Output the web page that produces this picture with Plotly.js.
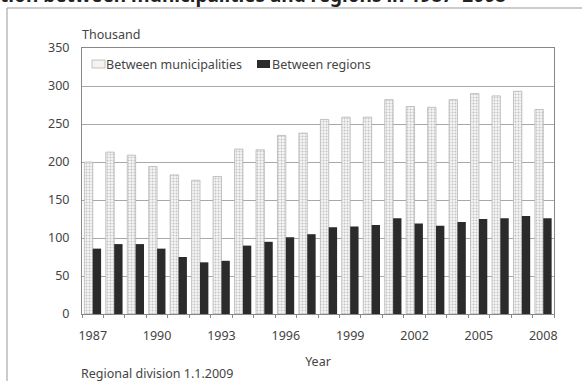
<!DOCTYPE html>
<html>
<head>
<meta charset="utf-8">
<script src="https://cdn.plot.ly/plotly-3.0.1.min.js"></script>
<style>
html,body{margin:0;padding:0;background:#fff;overflow:hidden;}
#chart{width:582px;height:381px;}
</style>
</head>
<body>
<div id="chart"></div>
<script>
const years = ['1987','1988','1989','1990','1991','1992','1993','1994','1995','1996','1997','1998','1999','2000','2001','2002','2003','2004','2005','2006','2007','2008'];
const betweenMunicipalities = [200,213,209,194,183,176,181,217,216,235,238,256,259,259,282,273,272,282,290,287,293,269];
const betweenRegions = [86,92,92,86,75,68,70,90,95,101,105,114,115,117,126,119,116,121,125,126,129,126];
const seriesNames = ['Between municipalities', 'Between regions'];
const yearLabels = years.map((y,i) => (i % 3 === 0 ? y : ''));
const yTicks = [0,50,100,150,200,250,300,350];

const FONT = 'Noto Sans, Open Sans, sans-serif';
const FS = 12.5;
const TXT = '#444';
const W = 582, H = 381;
const L = 82, R = 554, T = 48, B = 314;
const px = x => (x - L) / (R - L);
const py = y => (B - y) / (B - T);

const lightPattern = {shape: '.', fgcolor: '#c4c4c4', bgcolor: '#f6f6f6', size: 3, solidity: 0.35};
const darkColor = '#2b2b2b';

const traces = [
  {
    type: 'bar', name: seriesNames[0], x: years, y: betweenMunicipalities,
    marker: {color: '#f3f3f3', line: {color: '#b5b5b5', width: 0.8}, pattern: lightPattern}
  },
  {
    type: 'bar', name: seriesNames[1], x: years, y: betweenRegions,
    marker: {color: darkColor, line: {color: darkColor, width: 0}}
  }
];

const layout = {
  width: W, height: H,
  margin: {l: L, r: W - R, t: T, b: H - B, pad: 0},
  paper_bgcolor: '#fff', plot_bgcolor: '#fff',
  font: {family: FONT, size: FS, color: TXT},
  barmode: 'group', bargap: 0.22, bargroupgap: 0,
  showlegend: false,
  xaxis: {
    type: 'category', tickmode: 'array', tickvals: years, ticktext: yearLabels, tickangle: 0,
    tickson: 'boundaries', ticks: 'outside', ticklen: 3, tickcolor: '#888',
    ticklabelstandoff: 10,
    showgrid: false, showline: true, linecolor: '#888', linewidth: 1, mirror: true,
    tickfont: {family: FONT, size: FS, color: TXT},
    title: {text: 'Year', font: {family: FONT, size: FS, color: TXT}, standoff: 14},
    fixedrange: true
  },
  yaxis: {
    range: [0, 350], tickmode: 'array', tickvals: yTicks, ticktext: yTicks.map(String),
    showgrid: true, gridcolor: '#a8a8a8', gridwidth: 1,
    showline: true, linecolor: '#888', linewidth: 1, mirror: true,
    ticks: '', ticklabelstandoff: 9, zeroline: false,
    tickfont: {family: FONT, size: FS, color: TXT},
    fixedrange: true
  },
  annotations: [
    {text: 'Thousand', xref: 'paper', yref: 'paper', x: px(80), y: py(35), xanchor: 'left', yanchor: 'middle',
     showarrow: false, font: {family: FONT, size: FS, color: TXT}},
    {text: 'Regional division 1.1.2009', xref: 'paper', yref: 'paper', x: px(79), y: py(374), xanchor: 'left', yanchor: 'middle',
     showarrow: false, font: {family: FONT, size: FS, color: TXT}},
    {text: '<b>Migration between municipalities and regions in 1987–2008</b>', xref: 'paper', yref: 'paper',
     x: px(508), y: py(10), xanchor: 'right', yanchor: 'bottom',
     showarrow: false, font: {family: FONT, size: 19, color: '#222'}},
    {text: seriesNames[0], xref: 'paper', yref: 'paper', x: px(104), y: py(64), xanchor: 'left', yanchor: 'middle',
     showarrow: false, font: {family: FONT, size: FS, color: TXT}},
    {text: seriesNames[1], xref: 'paper', yref: 'paper', x: px(270), y: py(64), xanchor: 'left', yanchor: 'middle',
     showarrow: false, font: {family: FONT, size: FS, color: TXT}}
  ],
  shapes: [
    {type: 'line', xref: 'paper', yref: 'paper', x0: px(7), x1: px(582), y0: py(8), y1: py(8),
     line: {color: '#999', width: 1}, layer: 'below'},
    {type: 'line', xref: 'paper', yref: 'paper', x0: px(7), x1: px(7), y0: py(8), y1: py(381),
     line: {color: '#999', width: 1}, layer: 'below'},
    {type: 'rect', xref: 'paper', yref: 'paper', x0: px(92), x1: px(105), y0: py(68), y1: py(60),
     line: {color: '#b5b5b5', width: 0.8}, fillcolor: '#f3f3f3'},
    {type: 'rect', xref: 'paper', yref: 'paper', x0: px(257), x1: px(270), y0: py(68), y1: py(60),
     line: {color: darkColor, width: 0}, fillcolor: darkColor}
  ]
};

Plotly.newPlot('chart', traces, layout, {displayModeBar: false, staticPlot: true});
</script>
</body>
</html>
